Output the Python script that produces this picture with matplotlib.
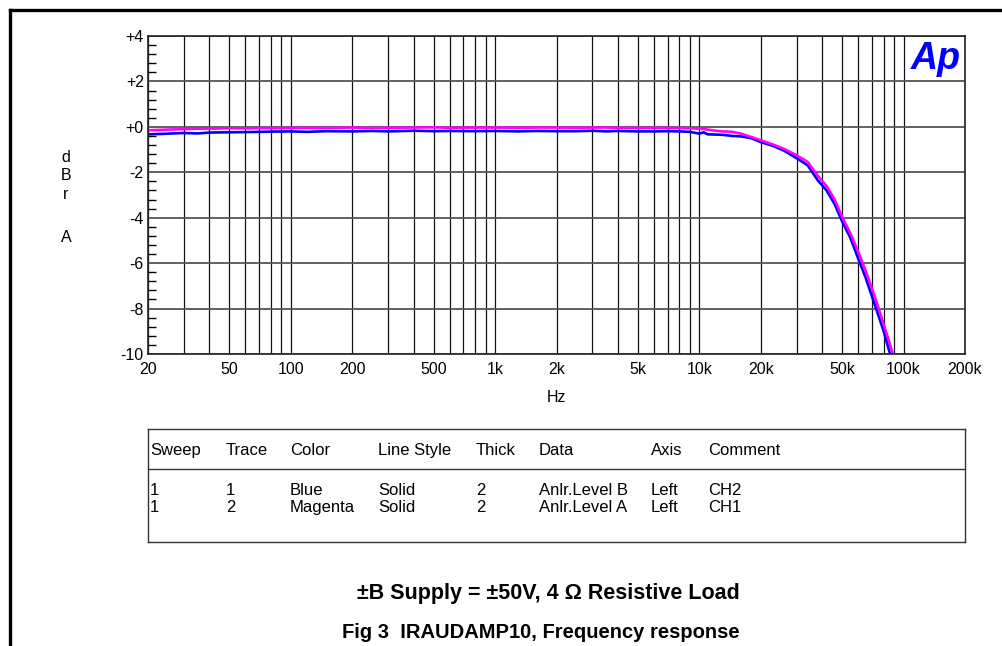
import matplotlib.pyplot as plt
from matplotlib.lines import Line2D
from matplotlib.ticker import FixedLocator, NullFormatter, MultipleLocator

plt.rcParams['font.family'] = ['Liberation Sans', 'DejaVu Sans']

# frequency points (Hz) and measured levels (dBr A)
freq = [20, 25, 30, 35, 40, 50, 60, 70, 80, 100, 120, 150, 200, 250, 300, 400, 500,
        600, 800, 1000, 1300, 1600, 2000, 2500, 3000, 3500, 4000, 5000, 6000, 7000,
        8000, 9000, 10000, 10500, 11000, 12000, 13000, 14500, 16000, 18000, 20000,
        23000, 26000, 30000, 34000, 38000, 42000, 46000, 50000, 55000, 60000, 65000,
        70000, 75000, 80000, 85000, 90000, 95000]
ch2_blue = [-0.33, -0.3, -0.27, -0.29, -0.25, -0.24, -0.23, -0.22, -0.21, -0.2, -0.22,
            -0.19, -0.2, -0.18, -0.2, -0.17, -0.19, -0.18, -0.19, -0.18, -0.2, -0.18,
            -0.19, -0.19, -0.17, -0.2, -0.18, -0.2, -0.2, -0.19, -0.2, -0.22, -0.3,
            -0.24, -0.33, -0.34, -0.35, -0.4, -0.42, -0.5, -0.67, -0.84, -1.05, -1.38,
            -1.7, -2.35, -2.8, -3.4, -4.15, -4.9, -5.8, -6.6, -7.45, -8.25, -9.0,
            -9.85, -10.6, -11.4]
ch1_magenta = [-0.15, -0.12, -0.1, -0.08, -0.08, -0.06, -0.07, -0.05, -0.06, -0.05,
               -0.04, -0.05, -0.03, -0.05, -0.04, -0.03, -0.02, -0.04, -0.03, -0.03,
               -0.04, -0.03, -0.03, -0.04, -0.03, -0.03, -0.04, -0.05, -0.04, -0.05,
               -0.05, -0.06, -0.08, -0.1, -0.12, -0.17, -0.2, -0.22, -0.3, -0.45, -0.59,
               -0.78, -0.97, -1.25, -1.55, -2.15, -2.6, -3.2, -3.95, -4.7, -5.5, -6.3,
               -7.1, -7.9, -8.7, -9.45, -10.2, -11.0]

xtick_vals = [20, 50, 100, 200, 500, 1000, 2000, 5000, 10000, 20000, 50000, 100000, 200000]
xtick_labels = ['20', '50', '100', '200', '500', '1k', '2k', '5k', '10k', '20k', '50k', '100k', '200k']
ytick_vals = [4, 2, 0, -2, -4, -6, -8, -10]
ytick_labels = ['+4', '+2', '+0', '-2', '-4', '-6', '-8', '-10']

table_cols = ['Sweep', 'Trace', 'Color', 'Line Style', 'Thick', 'Data', 'Axis', 'Comment']
table_rows = [['1', '1', 'Blue', 'Solid', '2', 'Anlr.Level B', 'Left', 'CH2'],
              ['1', '2', 'Magenta', 'Solid', '2', 'Anlr.Level A', 'Left', 'CH1']]
col_x = [150, 226, 290, 378, 476, 539, 651, 708]

W, H = 1002, 646
fig = plt.figure(figsize=(W / 100, H / 100), dpi=100)


def fx(px):
    return px / W


def fy(py):
    return 1 - py / H


ax = fig.add_axes([fx(148), fy(354), fx(965) - fx(148), fy(36) - fy(354)])
ax.set_xscale('log')
ax.set_xlim(20, 200000)
ax.set_ylim(-10, 4)

# grid: every decade multiple up to 100k
grid_x = [m * 10 ** e for e in range(1, 6) for m in range(1, 10) if 20 <= m * 10 ** e <= 100000]
minor_x = [g for g in grid_x if g not in xtick_vals]
ax.set_xticks(xtick_vals)
ax.set_xticklabels(xtick_labels)
ax.xaxis.set_minor_locator(FixedLocator(minor_x))
ax.xaxis.set_minor_formatter(NullFormatter())
ax.grid(True, which='both', axis='x', color='#111111', lw=0.9)
ax.set_yticks(ytick_vals)
ax.set_yticklabels(ytick_labels)
ax.yaxis.set_minor_locator(MultipleLocator(0.4))
ax.grid(True, which='major', axis='y', color='#555555', lw=1.3)
ax.tick_params(axis='x', which='both', length=0, pad=6, labelsize=11.5)
ax.tick_params(axis='y', which='major', length=0, pad=3, labelsize=11.5)
ax.tick_params(axis='y', which='minor', direction='in', length=6, width=1.0)
for s in ax.spines.values():
    s.set_color('#222222')
    s.set_linewidth(1.2)

ax.plot(freq, ch2_blue, color='#0000ff', lw=1.9, clip_on=True)
ax.plot(freq, ch1_magenta, color='#ff00ff', lw=1.9, clip_on=True)

ax.text(0.995, 0.985, 'Ap', transform=ax.transAxes, ha='right', va='top',
        color='#0000ff', fontsize=27, fontweight='bold', fontstyle='italic')

fig.text(fx(556), fy(397), 'Hz', ha='center', va='center', fontsize=11.5)
for ch, py in zip(['d', 'B', 'r', 'A'], [162, 180, 199, 242]):
    fig.text(fx(66), fy(py), ch, ha='center', va='baseline', fontsize=11.5)

# outer frame (top and left edges)
fig.add_artist(Line2D([fx(10), 1], [fy(10), fy(10)], color='black', lw=2.4))
fig.add_artist(Line2D([fx(10), fx(10)], [fy(10), 0], color='black', lw=2.4))

# legend table
tl, tr, tt, tb, tsep = 148, 965, 429, 542, 469
for xs, ys in [([tl, tr], [tt, tt]), ([tl, tr], [tb, tb]), ([tl, tl], [tt, tb]),
               ([tr, tr], [tt, tb]), ([tl, tr], [tsep, tsep])]:
    fig.add_artist(Line2D([fx(v) for v in xs], [fy(v) for v in ys], color='#333333', lw=1.0))
for name, cx in zip(table_cols, col_x):
    fig.text(fx(cx), fy(455), name, ha='left', va='baseline', fontsize=12)
for row, py in zip(table_rows, [495, 512]):
    for val, cx in zip(row, col_x):
        fig.text(fx(cx), fy(py), val, ha='left', va='baseline', fontsize=12)

fig.text(fx(548), fy(594), '±B Supply = ±50V, 4 Ω Resistive Load', ha='center', va='center',
         fontsize=15.5, fontweight='bold')
fig.text(fx(541), fy(632), 'Fig 3  IRAUDAMP10, Frequency response', ha='center', va='center',
         fontsize=14.5, fontweight='bold')

fig.savefig('out.png', dpi=100)
